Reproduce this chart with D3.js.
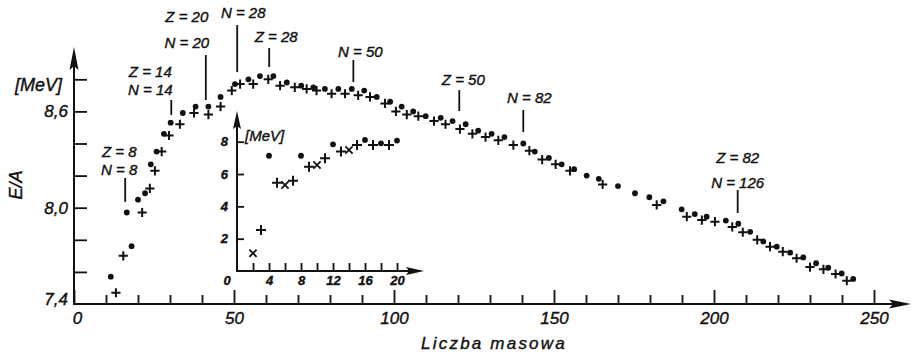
<!DOCTYPE html>
<html>
<head>
<meta charset="utf-8">
<script src="https://cdn.jsdelivr.net/npm/d3@7"></script>
<style>
body { margin: 0; background: #fff; }
svg text { font-family: "Liberation Sans", Arial, sans-serif; font-style: italic; fill: #111; stroke: #111; stroke-width: 0.4px; }
</style>
</head>
<body>
<script>
// main chart: binding energy per nucleon vs mass number
var dotMass   = [11.5,16.5,18,20,22.2,24,25.8,28.1,30.2,34,38,42,45.8,50.3,54.5,58.1,62.3,66.5,71,74.8,78.4,82.6,86.8,90.7,94.6,98.8,102.4,106,109.9,114.6,118.3,122.4,126.3,130.5,134.5,140.4,144,148.4,152.4,156.3,160.2,164,170,175.3,179.8,184.2,189.9,194,197.7,203.7,207.6,211.3,215.4,219.6,223.8,227.9,231.9,235.7,239.9,243.5];
var dotEnergy = [7.57,7.97,7.76,8.05,8.09,8.27,8.35,8.46,8.53,8.59,8.63,8.63,8.69,8.77,8.80,8.82,8.82,8.78,8.76,8.75,8.74,8.74,8.74,8.73,8.69,8.66,8.63,8.60,8.57,8.56,8.54,8.52,8.48,8.46,8.44,8.40,8.35,8.31,8.27,8.24,8.20,8.18,8.135,8.09,8.065,8.04,7.99,7.96,7.944,7.92,7.90,7.85,7.79,7.757,7.72,7.69,7.654,7.626,7.59,7.556];

var plusMass   = [13.1,15.4,21.3,23.7,25.3,27.4,29.7,33.1,37.5,42,45.8,49.3,51.9,56,60.7,64.4,69,72.7,75.8,80.5,84.7,88.8,92.5,97.2,100.6,104,107.6,112.5,116.1,120.6,124.5,128.6,132.6,137.3,142.3,146.3,150.5,155,165.2,182.1,191.5,196.2,200.3,205.7,209,213.5,217.5,221.5,225.8,230,234.2,238,241.5];
var plusEnergy = [7.47,7.70,7.97,8.12,8.23,8.35,8.45,8.52,8.59,8.58,8.63,8.73,8.77,8.77,8.80,8.76,8.75,8.74,8.73,8.71,8.71,8.70,8.69,8.65,8.60,8.58,8.57,8.54,8.52,8.49,8.46,8.44,8.42,8.39,8.355,8.30,8.27,8.23,8.145,8.017,7.944,7.923,7.913,7.88,7.847,7.80,7.757,7.726,7.685,7.63,7.616,7.587,7.545];

// inset: light nuclei
var insetDotMass    = [4,8,12,16,18,20];
var insetDotEnergy  = [7.13,7.13,7.84,8.11,7.9,8.07];
var insetPlusMass   = [3,5,7,9,11,13,15,17,19];
var insetPlusEnergy = [2.54,5.46,5.59,6.45,6.97,7.39,7.8,7.8,7.8];
var insetCrossMass   = [2,6,10,14];
var insetCrossEnergy = [1.1,5.32,6.56,7.49];

// axis ticks
var xMinorTicks = [10,20,30,40,60,70,80,90,110,120,130,140,160,170,180,190,210,220,230,240];
var xMajorTicks = [0,50,100,150,200,250];
var yTicks = [7.6,7.8,8.0,8.2,8.4,8.6,8.8];
var yLabelTicks = [7.4,8.0,8.6];
var insetXTicks = [2,4,6,8,10,12,14,16,18,20];
var insetYTicks = [2,4,6,8];

// magic-number markers: mass number, line ends (E/A), labels
var magicMass  = [16,30.4,41.2,51,61,87.3,120.4,140.4,207.4];
var magicTop   = [8.185,8.671,8.951,9.138,8.995,8.92,8.733,8.609,8.11];
var magicBot   = [8.036,8.578,8.671,8.845,8.877,8.783,8.602,8.472,7.967];
var magicLabel = [["Z = 8","N = 8"],["Z = 14","N = 14"],["Z = 20","N = 20"],["N = 28"],["Z = 28"],["N = 50"],["Z = 50"],["N = 82"],["Z = 82","N = 126"]];
// label layout (px): horizontal shift and baselines above line top
var magicDx   = [-6,-21,-19,6,7,7,4,6,0];
var magicBase = [[-21,-3],[-23,-5],[-33,-7],[-7],[-6],[-3],[-5],[-7],[-27,-2]];

var W = 913, H = 357;
var svg = d3.select("body").append("svg")
            .attr("width", W)
            .attr("height", H);

var x = d3.scaleLinear().domain([0,250]).range([74,874]);
var y = d3.scaleLinear().domain([7.4,8.8]).range([304,79.3]);
var xi = d3.scaleLinear().domain([0,20]).range([237,397]);
var yi = d3.scaleLinear().domain([0,8]).range([271,141.7]);

var ink = "#111";
var fmt = function(d){ return d3.format(".1f")(d).replace(".", ","); };

// main axes lines with arrows
svg.append("line").attr("x1",74).attr("y1",304).attr("x2",74).attr("y2",58)
   .attr("stroke",ink).attr("stroke-width",2);
svg.append("path").attr("d","M74,47 L69.5,70 L74,66 L78.5,70 Z").attr("fill",ink);
svg.append("line").attr("x1",73).attr("y1",304).attr("x2",900).attr("y2",304)
   .attr("stroke",ink).attr("stroke-width",2);
svg.append("path").attr("d","M911,304 L889,299.5 L893,304 L889,308.5 Z").attr("fill",ink);

// x ticks
var gxMinor = svg.append("g").attr("transform","translate(0,304)")
    .call(d3.axisBottom(x).tickValues(xMinorTicks).tickSize(-9).tickFormat(""));
var gxMajor = svg.append("g").attr("transform","translate(0,304)")
    .call(d3.axisBottom(x).tickValues(xMajorTicks).tickSize(-14).tickPadding(8).tickFormat(d3.format("d")));
var gy = svg.append("g").attr("transform","translate(74,0)")
    .call(d3.axisLeft(y).tickValues(yTicks).tickSize(-13).tickFormat(""));
var gyLab = svg.append("g").attr("transform","translate(74,0)")
    .call(d3.axisLeft(y).tickValues(yLabelTicks).tickSize(0).tickPadding(6).tickFormat(fmt));
gyLab.selectAll(".tick").filter(function(d){ return d === 7.4; }).select("text").attr("dy","0.05em");

[gxMinor,gxMajor,gy,gyLab].forEach(function(g){
  g.select(".domain").remove();
  g.selectAll(".tick line").attr("stroke",ink).attr("stroke-width",1.8);
  g.selectAll("text").attr("font-size",17);
});
gxMajor.select(".tick text").attr("dx","3");

// axis titles
svg.append("text").attr("x",15).attr("y",91).attr("font-size",18).text("[MeV]");
svg.append("text").attr("transform","translate(22,185) rotate(-90)")
   .attr("text-anchor","middle").attr("font-size",18).text("E/A");
svg.append("text").attr("x",494).attr("y",349).attr("text-anchor","middle")
   .attr("font-size",17).attr("letter-spacing",2.2).text("Liczba masowa");

// markers
var plusPath = function(s){ return "M"+(-s)+",0H"+s+"M0,"+(-s)+"V"+s; };
var crossPath = function(s){ return "M"+(-s)+","+(-s)+"L"+s+","+s+"M"+(-s)+","+s+"L"+s+","+(-s); };

svg.append("g").selectAll("circle")
   .data(dotMass)
   .enter().append("circle")
      .attr("cx",function(d){ return x(d); })
      .attr("cy",function(d,i){ return y(dotEnergy[i]); })
      .attr("r",2.9)
      .attr("fill",ink);

svg.append("g").selectAll("path")
   .data(plusMass)
   .enter().append("path")
      .attr("transform",function(d,i){ return "translate("+x(d)+","+y(plusEnergy[i])+")"; })
      .attr("d",plusPath(4.6))
      .attr("stroke",ink).attr("stroke-width",2);

// magic number annotations
var ann = svg.append("g").selectAll("g")
   .data(magicMass)
   .enter().append("g");
ann.append("line")
   .attr("x1",function(d){ return x(d); })
   .attr("x2",function(d){ return x(d); })
   .attr("y1",function(d,i){ return y(magicTop[i]); })
   .attr("y2",function(d,i){ return y(magicBot[i]); })
   .attr("stroke",ink).attr("stroke-width",1.8);
ann.each(function(d,i){
  var g = d3.select(this);
  magicLabel[i].forEach(function(t,j){
    g.append("text")
     .attr("x", x(d) + magicDx[i])
     .attr("y", y(magicTop[i]) + magicBase[i][j])
     .attr("text-anchor","middle")
     .attr("font-size",15)
     .text(t);
  });
});

// inset
var inset = svg.append("g");
inset.append("line").attr("x1",237).attr("y1",271).attr("x2",237).attr("y2",122)
   .attr("stroke",ink).attr("stroke-width",2);
inset.append("path").attr("d","M237,111 L233,129 L237,126 L241,129 Z").attr("fill",ink);
inset.append("line").attr("x1",236).attr("y1",271).attr("x2",414).attr("y2",271)
   .attr("stroke",ink).attr("stroke-width",2);
inset.append("path").attr("d","M424,271 L406,267 L409,271 L406,275 Z").attr("fill",ink);

var gix = inset.append("g").attr("transform","translate(0,271)")
    .call(d3.axisBottom(xi).tickValues(insetXTicks).tickSize(-8).tickPadding(5)
          .tickFormat(function(d){ return d % 4 === 0 ? d : ""; }));
var giy = inset.append("g").attr("transform","translate(237,0)")
    .call(d3.axisLeft(yi).tickValues(insetYTicks).tickSize(-7).tickPadding(9));
[gix,giy].forEach(function(g){
  g.select(".domain").remove();
  g.selectAll(".tick line").attr("stroke",ink).attr("stroke-width",1.8);
  g.selectAll("text").attr("font-size",13).attr("font-weight","bold");
});
inset.append("text").attr("x",227).attr("y",285).attr("text-anchor","middle")
   .attr("font-size",13).attr("font-weight","bold").text("0");
inset.append("text").attr("x",245).attr("y",141).attr("font-size",15).text("[MeV]");

inset.append("g").selectAll("circle")
   .data(insetDotMass)
   .enter().append("circle")
      .attr("cx",function(d){ return xi(d); })
      .attr("cy",function(d,i){ return yi(insetDotEnergy[i]); })
      .attr("r",2.9)
      .attr("fill",ink);
inset.append("g").selectAll("path")
   .data(insetPlusMass)
   .enter().append("path")
      .attr("transform",function(d,i){ return "translate("+xi(d)+","+yi(insetPlusEnergy[i])+")"; })
      .attr("d",plusPath(5))
      .attr("stroke",ink).attr("stroke-width",2);
inset.append("g").selectAll("path")
   .data(insetCrossMass)
   .enter().append("path")
      .attr("transform",function(d,i){ return "translate("+xi(d)+","+yi(insetCrossEnergy[i])+")"; })
      .attr("d",crossPath(3.6))
      .attr("stroke",ink).attr("stroke-width",1.8);
</script>
</body>
</html>
